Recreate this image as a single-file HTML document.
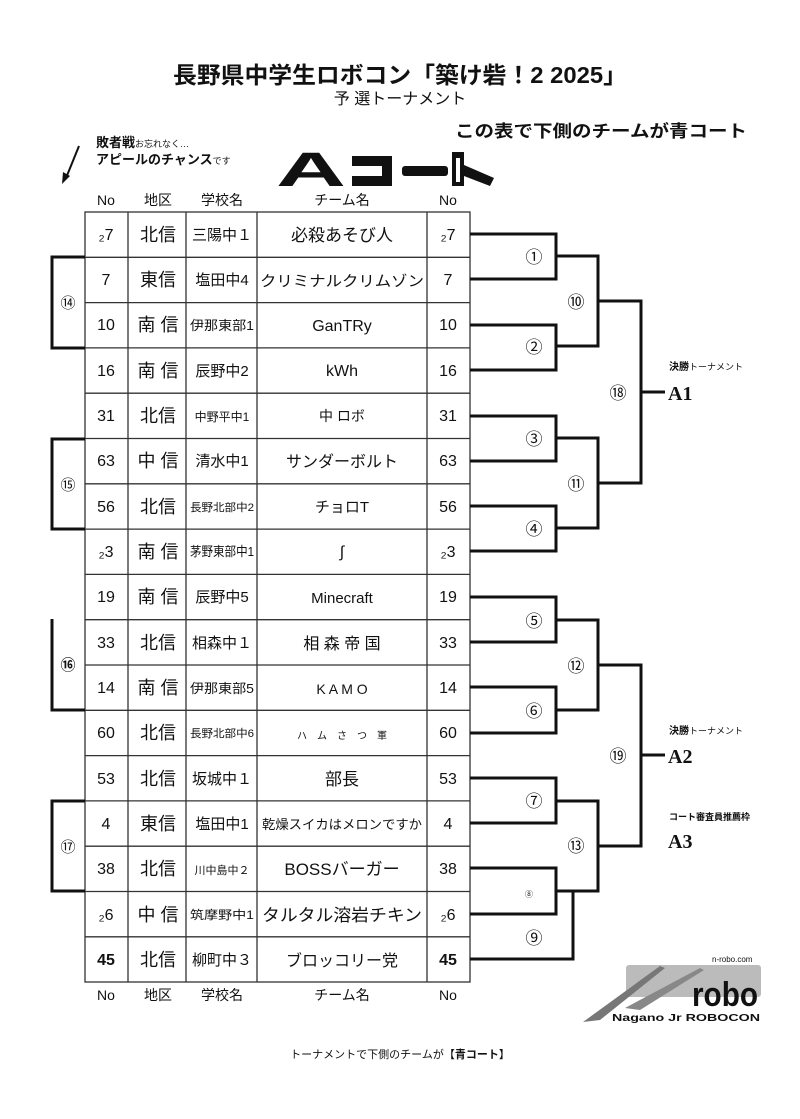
<!DOCTYPE html>
<html><head><meta charset="utf-8">
<style>
html,body{margin:0;padding:0;background:#fff;}
svg{display:block;}
text{font-family:"Liberation Sans","Noto Sans CJK JP",sans-serif;fill:#111;}
.b{font-weight:bold;}
</style></head><body>
<svg width="800" height="1119" viewBox="0 0 800 1119" xmlns="http://www.w3.org/2000/svg">
<!-- Title -->
<text x="400" y="83" text-anchor="middle" font-size="23" class="b" textLength="454" lengthAdjust="spacingAndGlyphs">長野県中学生ロボコン「築け砦！2 2025」</text>
<text x="400" y="104" text-anchor="middle" font-size="16" fill="#333">予 選トーナメント</text>
<text x="455" y="137" font-size="17" class="b" textLength="292" lengthAdjust="spacingAndGlyphs">この表で下側のチームが青コート</text>
<text x="96" y="147" font-size="13" class="b">敗者戦<tspan font-size="9" font-weight="normal">お忘れなく…</tspan></text>
<text x="96" y="164" font-size="13" class="b">アピールのチャンス<tspan font-size="9" font-weight="normal">です</tspan></text>
<line x1="79" y1="146" x2="66" y2="178" stroke="#111" stroke-width="2"/>
<polygon points="62,184 63,172 70,176" fill="#111"/>
<!-- A court -->
<text x="276" y="186" font-size="48" class="b" textLength="70" lengthAdjust="spacingAndGlyphs" style="font-family:'Liberation Sans',sans-serif;font-weight:900">A</text>
<path d="M352 156 H392 V186 H352 V176 H382 V166 H352 Z" fill="#111"/>
<rect x="360" y="168" width="22" height="6" fill="#fff"/>
<rect x="402" y="166" width="46" height="10" fill="#111" rx="3"/>
<path d="M452 152 H464 V165 L494 178 L490 186 L464 176 V186 H452 Z" fill="#111"/>
<rect x="456" y="158" width="4" height="24" fill="#fff"/>
<!-- header -->
<g font-size="14" fill="#333" text-anchor="middle">
<text x="106" y="205">No</text><text x="158" y="205">地区</text><text x="222" y="205">学校名</text><text x="342" y="205">チーム名</text><text x="448" y="205">No</text>
<text x="106" y="1000">No</text><text x="158" y="1000">地区</text><text x="222" y="1000">学校名</text><text x="342" y="1000">チーム名</text><text x="448" y="1000">No</text>
</g>
<!-- table grid -->
<g stroke="#333" stroke-width="1.3" fill="none">
<rect x="85" y="212" width="385" height="770"/>
<line x1="128" y1="212" x2="128" y2="982"/>
<line x1="186" y1="212" x2="186" y2="982"/>
<line x1="257" y1="212" x2="257" y2="982"/>
<line x1="427" y1="212" x2="427" y2="982"/>
<line x1="85" y1="257.3" x2="470" y2="257.3"/>
<line x1="85" y1="302.6" x2="470" y2="302.6"/>
<line x1="85" y1="347.9" x2="470" y2="347.9"/>
<line x1="85" y1="393.2" x2="470" y2="393.2"/>
<line x1="85" y1="438.5" x2="470" y2="438.5"/>
<line x1="85" y1="483.8" x2="470" y2="483.8"/>
<line x1="85" y1="529.1" x2="470" y2="529.1"/>
<line x1="85" y1="574.4" x2="470" y2="574.4"/>
<line x1="85" y1="619.7" x2="470" y2="619.7"/>
<line x1="85" y1="665" x2="470" y2="665"/>
<line x1="85" y1="710.3" x2="470" y2="710.3"/>
<line x1="85" y1="755.6" x2="470" y2="755.6"/>
<line x1="85" y1="800.9" x2="470" y2="800.9"/>
<line x1="85" y1="846.2" x2="470" y2="846.2"/>
<line x1="85" y1="891.5" x2="470" y2="891.5"/>
<line x1="85" y1="936.8" x2="470" y2="936.8"/>
</g>
<!-- rows -->
<g font-size="16" fill="#222" text-anchor="middle">
<text x="106" y="240">₂7</text><text x="158" y="241" font-size="18">北信</text><text x="222" y="240" font-size="15">三陽中１</text><text x="342" y="241" font-size="17">必殺あそび人</text><text x="448" y="240">₂7</text>
<text x="106" y="285">7</text><text x="158" y="286" font-size="18">東信</text><text x="222" y="285" font-size="15">塩田中4</text><text x="342" y="286" font-size="15" textLength="164" lengthAdjust="spacingAndGlyphs">クリミナルクリムゾン</text><text x="448" y="285">7</text>
<text x="106" y="330">10</text><text x="158" y="331" font-size="18">南 信</text><text x="222" y="330" font-size="13" textLength="64" lengthAdjust="spacingAndGlyphs">伊那東部1</text><text x="342" y="331" font-size="16">GanTRy</text><text x="448" y="330">10</text>
<text x="106" y="376">16</text><text x="158" y="377" font-size="18">南 信</text><text x="222" y="376" font-size="15">辰野中2</text><text x="342" y="376" font-size="16">kWh</text><text x="448" y="376">16</text>
<text x="106" y="421">31</text><text x="158" y="422" font-size="18">北信</text><text x="222" y="421" font-size="12">中野平中1</text><text x="342" y="421" font-size="14">中 ロボ</text><text x="448" y="421">31</text>
<text x="106" y="466">63</text><text x="158" y="467" font-size="18">中 信</text><text x="222" y="466" font-size="15">清水中1</text><text x="342" y="467" font-size="16">サンダーボルト</text><text x="448" y="466">63</text>
<text x="106" y="512">56</text><text x="158" y="513" font-size="18">北信</text><text x="222" y="511" font-size="11" textLength="64" lengthAdjust="spacingAndGlyphs">長野北部中2</text><text x="342" y="512" font-size="15">チョロT</text><text x="448" y="512">56</text>
<text x="106" y="557">₂3</text><text x="158" y="558" font-size="18">南 信</text><text x="222" y="556" font-size="13" textLength="64" lengthAdjust="spacingAndGlyphs">茅野東部中1</text><text x="342" y="557" font-size="16">∫</text><text x="448" y="557">₂3</text>
<text x="106" y="602">19</text><text x="158" y="603" font-size="18">南 信</text><text x="222" y="602" font-size="15">辰野中5</text><text x="342" y="603" font-size="15">Minecraft</text><text x="448" y="602">19</text>
<text x="106" y="648">33</text><text x="158" y="649" font-size="18">北信</text><text x="222" y="648" font-size="15">相森中１</text><text x="342" y="649" font-size="16">相 森 帝 国</text><text x="448" y="648">33</text>
<text x="106" y="693">14</text><text x="158" y="694" font-size="18">南 信</text><text x="222" y="693" font-size="13" textLength="64" lengthAdjust="spacingAndGlyphs">伊那東部5</text><text x="342" y="694" font-size="14">K A M O</text><text x="448" y="693">14</text>
<text x="106" y="738">60</text><text x="158" y="739" font-size="18">北信</text><text x="222" y="737" font-size="11" textLength="64" lengthAdjust="spacingAndGlyphs">長野北部中6</text><text x="342" y="739" font-size="10">ハ　ム　さ　つ　軍</text><text x="448" y="738">60</text>
<text x="106" y="784">53</text><text x="158" y="785" font-size="18">北信</text><text x="222" y="784" font-size="15">坂城中１</text><text x="342" y="785" font-size="17">部長</text><text x="448" y="784">53</text>
<text x="106" y="829">4</text><text x="158" y="830" font-size="18">東信</text><text x="222" y="829" font-size="15">塩田中1</text><text x="342" y="829" font-size="13" textLength="160" lengthAdjust="spacingAndGlyphs">乾燥スイカはメロンですか</text><text x="448" y="829">4</text>
<text x="106" y="874">38</text><text x="158" y="875" font-size="18">北信</text><text x="222" y="874" font-size="11">川中島中２</text><text x="342" y="875" font-size="17">BOSSバーガー</text><text x="448" y="874">38</text>
<text x="106" y="920">₂6</text><text x="158" y="921" font-size="18">中 信</text><text x="222" y="919" font-size="12" textLength="64" lengthAdjust="spacingAndGlyphs">筑摩野中1</text><text x="342" y="921" font-size="17" textLength="160" lengthAdjust="spacingAndGlyphs">タルタル溶岩チキン</text><text x="448" y="920">₂6</text>
<text x="106" y="965" font-weight="bold">45</text><text x="158" y="966" font-size="18">北信</text><text x="222" y="965" font-size="15">柳町中３</text><text x="342" y="966" font-size="16">ブロッコリー党</text><text x="448" y="965" font-weight="bold">45</text>
</g>
<!-- left brackets -->
<g stroke="#111" stroke-width="3" fill="none">
<polyline points="85,257 52,257 52,348 85,348"/>
<polyline points="85,439 52,439 52,529 85,529"/>
<polyline points="52,619 52,710 85,710"/>
<polyline points="85,801 52,801 52,891 85,891"/>
</g>
<g font-size="15" text-anchor="middle">
<text x="68" y="308">⑭</text><text x="68" y="490">⑮</text><text x="68" y="670" class="b">⑯</text><text x="68" y="852">⑰</text>
</g>
<!-- right bracket -->
<g stroke="#111" stroke-width="3" fill="none">
<polyline points="470,234 556,234 556,279 470,279"/>
<polyline points="470,325 556,325 556,370 470,370"/>
<polyline points="470,416 556,416 556,461 470,461"/>
<polyline points="470,506 556,506 556,551 470,551"/>
<polyline points="470,597 556,597 556,642 470,642"/>
<polyline points="470,687 556,687 556,733 470,733"/>
<polyline points="470,778 556,778 556,823 470,823"/>
<polyline points="470,868 556,868 556,914 470,914"/>
<polyline points="470,959 573,959 573,891"/>
<polyline points="556,256 598,256 598,346 556,346"/>
<polyline points="556,438 598,438 598,528 556,528"/>
<polyline points="556,620 598,620 598,710 556,710"/>
<polyline points="556,801 598,801 598,891 556,891"/>
<polyline points="598,301 641,301 641,483 598,483"/>
<polyline points="598,665 641,665 641,846 598,846"/>
<line x1="641" y1="392" x2="665" y2="392"/>
<line x1="641" y1="755" x2="665" y2="755"/>
</g>
<g font-size="17" text-anchor="middle">
<text x="534" y="263">①</text><text x="534" y="353">②</text><text x="534" y="445">③</text><text x="534" y="535">④</text>
<text x="534" y="627">⑤</text><text x="534" y="717">⑥</text><text x="534" y="807">⑦</text><text x="529" y="897" font-size="8">⑧</text><text x="534" y="944">⑨</text>
<text x="576" y="308">⑩</text><text x="576" y="490">⑪</text><text x="576" y="672">⑫</text><text x="576" y="852">⑬</text>
<text x="618" y="399">⑱</text><text x="618" y="762">⑲</text>
</g>
<text x="669" y="370" font-size="10" class="b">決勝<tspan font-weight="normal" font-size="9">トーナメント</tspan></text>
<text x="668" y="400" font-size="20" class="b" style="font-family:'Liberation Serif',serif">A1</text>
<text x="669" y="734" font-size="10" class="b">決勝<tspan font-weight="normal" font-size="9">トーナメント</tspan></text>
<text x="668" y="763" font-size="20" class="b" style="font-family:'Liberation Serif',serif">A2</text>
<text x="669" y="820" font-size="9" class="b">コート審査員推薦枠</text>
<text x="668" y="848" font-size="20" class="b" style="font-family:'Liberation Serif',serif">A3</text>
<!-- logo -->
<rect x="626" y="965" width="135" height="32" rx="3" fill="#bbb"/>
<polygon points="583,1022 660,966 665,968 600,1020" fill="#777"/>
<polygon points="625,1008 700,968 704,970 640,1010" fill="#888"/>
<text x="712" y="962" font-size="8" fill="#444">n-robo.com</text>
<text x="692" y="1006" font-size="34" class="b" fill="#555" textLength="66" lengthAdjust="spacingAndGlyphs">robo</text>
<text x="612" y="1021" font-size="10.5" class="b" fill="#444" textLength="148" lengthAdjust="spacingAndGlyphs">Nagano Jr ROBOCON</text>
<!-- footer -->
<text x="400" y="1058" text-anchor="middle" font-size="11">トーナメントで下側のチームが【<tspan class="b">青コート</tspan>】</text>
</svg>
</body></html>
